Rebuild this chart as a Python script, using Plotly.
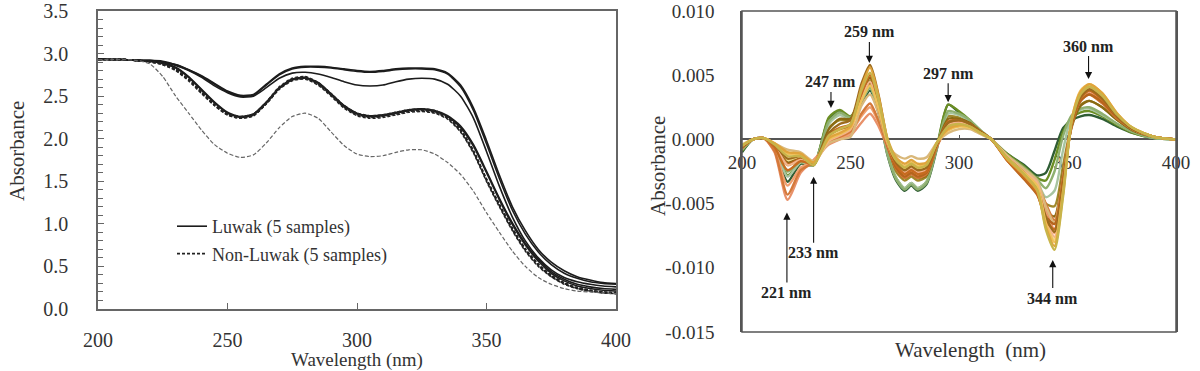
import plotly.graph_objects as go

# ---------------- Left panel: UV absorbance spectra ----------------
wl_left = [200, 205, 210, 215, 220, 225, 230, 235, 240, 245, 250, 255, 260, 265, 270,
           275, 280, 285, 290, 295, 300, 305, 310, 315, 320, 325, 330, 335, 340, 345,
           350, 355, 360, 365, 370, 375, 380, 385, 390, 395, 400]

luwak_1 = [2.94, 2.93, 2.93, 2.92, 2.92, 2.91, 2.87, 2.81, 2.74, 2.65, 2.56, 2.51, 2.52, 2.64, 2.76,
           2.83, 2.85, 2.85, 2.84, 2.82, 2.80, 2.79, 2.80, 2.82, 2.83, 2.83, 2.82, 2.77, 2.63, 2.36,
           1.98, 1.57, 1.20, 0.92, 0.70, 0.55, 0.45, 0.38, 0.34, 0.31, 0.30]
luwak_2 = [2.94, 2.93, 2.93, 2.92, 2.92, 2.90, 2.86, 2.80, 2.72, 2.62, 2.54, 2.49, 2.50, 2.60, 2.71,
           2.77, 2.78, 2.76, 2.72, 2.67, 2.63, 2.62, 2.63, 2.67, 2.70, 2.71, 2.70, 2.64, 2.50, 2.24,
           1.85, 1.44, 1.08, 0.80, 0.60, 0.46, 0.37, 0.32, 0.29, 0.27, 0.26]
luwak_3 = [2.93, 2.93, 2.93, 2.92, 2.91, 2.90, 2.87, 2.81, 2.73, 2.64, 2.55, 2.50, 2.51, 2.63, 2.75,
           2.82, 2.84, 2.84, 2.83, 2.81, 2.79, 2.78, 2.79, 2.81, 2.82, 2.82, 2.81, 2.76, 2.61, 2.33,
           1.94, 1.53, 1.16, 0.88, 0.67, 0.52, 0.42, 0.36, 0.32, 0.30, 0.29]
luwak_4 = [2.93, 2.93, 2.93, 2.92, 2.91, 2.89, 2.84, 2.73, 2.58, 2.43, 2.31, 2.26, 2.29, 2.43, 2.60,
           2.70, 2.72, 2.66, 2.53, 2.39, 2.30, 2.27, 2.28, 2.31, 2.34, 2.35, 2.33, 2.27, 2.15, 1.93,
           1.62, 1.30, 1.01, 0.77, 0.58, 0.44, 0.35, 0.29, 0.26, 0.24, 0.23]
luwak_5 = [2.93, 2.93, 2.93, 2.92, 2.91, 2.88, 2.83, 2.72, 2.57, 2.42, 2.30, 2.25, 2.28, 2.42, 2.59,
           2.69, 2.71, 2.65, 2.52, 2.38, 2.29, 2.26, 2.27, 2.30, 2.33, 2.34, 2.32, 2.26, 2.13, 1.91,
           1.60, 1.28, 0.99, 0.75, 0.56, 0.42, 0.33, 0.27, 0.24, 0.22, 0.21]

nonluwak_1 = [2.93, 2.93, 2.93, 2.92, 2.91, 2.88, 2.82, 2.70, 2.55, 2.40, 2.29, 2.25, 2.28, 2.42, 2.60,
              2.70, 2.72, 2.65, 2.52, 2.38, 2.29, 2.26, 2.27, 2.30, 2.33, 2.34, 2.32, 2.25, 2.10, 1.85,
              1.52, 1.22, 0.94, 0.70, 0.52, 0.39, 0.30, 0.25, 0.22, 0.20, 0.19]
nonluwak_2 = [2.93, 2.93, 2.93, 2.92, 2.91, 2.88, 2.81, 2.69, 2.54, 2.39, 2.28, 2.24, 2.27, 2.41, 2.59,
              2.69, 2.71, 2.64, 2.51, 2.37, 2.28, 2.25, 2.26, 2.29, 2.32, 2.33, 2.31, 2.24, 2.09, 1.84,
              1.51, 1.21, 0.93, 0.69, 0.51, 0.38, 0.30, 0.24, 0.21, 0.19, 0.18]
nonluwak_3 = [2.93, 2.93, 2.93, 2.92, 2.91, 2.87, 2.81, 2.70, 2.56, 2.41, 2.30, 2.26, 2.29, 2.43, 2.61,
              2.71, 2.73, 2.66, 2.53, 2.39, 2.30, 2.27, 2.28, 2.31, 2.34, 2.35, 2.33, 2.26, 2.11, 1.86,
              1.53, 1.23, 0.95, 0.71, 0.53, 0.40, 0.31, 0.25, 0.22, 0.20, 0.19]
nonluwak_4 = [2.93, 2.93, 2.93, 2.92, 2.90, 2.87, 2.80, 2.68, 2.53, 2.39, 2.28, 2.24, 2.27, 2.41, 2.58,
              2.68, 2.70, 2.63, 2.50, 2.36, 2.27, 2.24, 2.25, 2.28, 2.31, 2.32, 2.30, 2.23, 2.08, 1.83,
              1.50, 1.20, 0.92, 0.68, 0.50, 0.38, 0.29, 0.24, 0.21, 0.19, 0.18]
nonluwak_5 = [2.93, 2.93, 2.93, 2.92, 2.88, 2.73, 2.50, 2.30, 2.10, 1.93, 1.83, 1.78, 1.81, 1.95, 2.13,
              2.26, 2.30, 2.24, 2.08, 1.92, 1.82, 1.79, 1.80, 1.84, 1.87, 1.87, 1.82, 1.72, 1.58, 1.38,
              1.13, 0.90, 0.68, 0.50, 0.37, 0.29, 0.24, 0.21, 0.20, 0.19, 0.18]

left_xticks = [200, 250, 300, 350, 400]
left_yticks = [0.0, 0.5, 1.0, 1.5, 2.0, 2.5, 3.0, 3.5]

# ---------------- Right panel: derivative spectra (values in 1e-3 absorbance units) ----------------
wl_right = [200, 205, 210, 215, 221, 227, 233, 240, 245, 250, 255, 259, 263, 267, 271, 275, 278, 281,
            285, 290, 295, 300, 305, 310, 315, 322, 330, 336, 340, 344, 348, 352, 356, 360, 366, 373,
            380, 390, 400]

deriv_series = [
    ("#f3d98a", [-0.5, 0.0, 0.1, -0.4, -1.6, -1.4, -1.9, 0.2, 0.7, 1.1, 3.3, 4.6, 2.6, -0.1, -1.7, -2.3, -2.0, -2.3,
                 -2.1, -0.3, 1.0, 1.2, 1.0, 0.5, 0.0, -1.3, -2.5, -3.5, -6.2, -7.8, -3.9, 1.5, 3.6, 4.1, 3.4, 1.9,
                 0.9, 0.2, 0.0]),
    ("#a0892c", [-0.6, 0.0, 0.1, -0.5, -2.0, -1.6, -2.0, 0.9, 1.5, 1.5, 3.4, 4.6, 2.5, -0.5, -2.5, -3.2, -2.9, -3.2,
                 -2.9, -0.4, 1.8, 1.7, 1.3, 0.6, 0.0, -1.4, -2.7, -3.5, -5.0, -5.2, -2.0, 1.2, 2.7, 3.0, 2.5, 1.5,
                 0.7, 0.2, 0.0]),
    ("#2f5d34", [-1.0, 0.0, 0.1, -0.8, -3.3, -1.9, -2.0, 1.6, 2.2, 1.6, 2.8, 3.8, 2.0, -1.2, -3.2, -4.0, -3.6, -4.0,
                 -3.5, -0.6, 2.7, 2.1, 1.4, 0.6, 0.0, -1.1, -2.0, -2.8, -2.6, -0.9, 0.9, 1.5, 1.8, 1.9, 1.6, 1.0,
                 0.5, 0.1, 0.0]),
    ("#6b8e23", [-0.9, 0.0, 0.1, -0.6, -2.8, -1.8, -2.0, 1.7, 2.3, 1.8, 3.2, 4.3, 2.3, -1.0, -3.0, -3.8, -3.4, -3.8,
                 -3.3, -0.4, 2.7, 2.2, 1.5, 0.6, 0.0, -1.1, -2.1, -3.0, -3.2, -1.6, 0.6, 1.7, 2.1, 2.2, 1.8, 1.1,
                 0.5, 0.1, 0.0]),
    ("#a7c4a0", [-0.8, 0.0, 0.1, -0.7, -2.9, -1.8, -2.0, 1.2, 1.9, 1.6, 3.0, 4.0, 2.2, -1.1, -3.0, -3.8, -3.4, -3.8,
                 -3.3, -0.5, 2.0, 1.9, 1.4, 0.7, 0.0, -1.2, -2.3, -3.3, -4.5, -4.0, -0.8, 1.8, 2.3, 2.4, 1.9, 1.2,
                 0.6, 0.1, 0.0]),
    ("#8fb070", [-0.8, 0.0, 0.1, -0.6, -2.5, -1.7, -1.9, 1.4, 2.1, 1.7, 3.0, 4.0, 2.1, -1.1, -3.1, -3.9, -3.5, -3.9,
                 -3.4, -0.5, 2.2, 2.0, 1.5, 0.7, 0.0, -1.2, -2.2, -3.1, -3.8, -2.5, 0.3, 1.9, 2.4, 2.5, 2.0, 1.2,
                 0.6, 0.1, 0.0]),
    ("#8a6a12", [-0.6, 0.0, 0.1, -0.5, -1.8, -1.5, -2.0, 0.8, 1.6, 1.6, 3.6, 4.8, 2.7, -0.4, -2.3, -3.0, -2.7, -3.0,
                 -2.8, -0.4, 1.6, 1.6, 1.3, 0.6, 0.0, -1.5, -2.9, -3.7, -5.5, -6.0, -2.6, 1.0, 2.6, 3.0, 2.5, 1.5,
                 0.7, 0.2, 0.0]),
    ("#e8916a", [-0.6, 0.0, 0.1, -1.0, -4.7, -2.6, -1.6, -0.4, 0.0, 0.3, 1.3, 2.0, 1.0, -0.6, -2.0, -2.6, -2.3, -2.6,
                 -2.3, -0.4, 0.9, 1.2, 1.1, 0.6, 0.0, -1.4, -2.5, -3.6, -5.5, -7.0, -3.0, 1.2, 3.0, 3.6, 2.9, 1.7,
                 0.8, 0.2, 0.0]),
    ("#f0a070", [-0.6, 0.0, 0.1, -0.8, -3.6, -2.2, -1.7, -0.3, 0.1, 0.5, 1.8, 2.5, 1.3, -0.5, -2.1, -2.8, -2.5, -2.8,
                 -2.5, -0.4, 0.9, 1.2, 1.0, 0.5, 0.0, -1.4, -2.6, -3.7, -5.8, -7.3, -3.4, 1.3, 3.2, 3.8, 3.1, 1.8,
                 0.8, 0.2, 0.0]),
    ("#d4793a", [-0.7, 0.0, 0.1, -0.9, -4.3, -2.4, -1.8, -0.2, 0.2, 0.6, 2.0, 2.8, 1.4, -0.6, -2.3, -3.0, -2.7, -3.0,
                 -2.7, -0.5, 1.0, 1.3, 1.1, 0.6, 0.0, -1.3, -2.4, -3.4, -5.0, -6.3, -2.8, 1.3, 3.0, 3.5, 2.8, 1.6,
                 0.8, 0.2, 0.0]),
    ("#d9b87a", [-0.4, 0.0, 0.1, -0.3, -0.8, -1.0, -1.7, -0.3, 0.0, 0.2, 2.6, 3.5, 2.0, -0.3, -1.2, -1.5, -1.3, -1.5,
                 -1.4, -0.2, 0.5, 0.8, 0.8, 0.4, 0.0, -1.2, -2.3, -3.2, -5.2, -6.5, -3.0, 1.2, 3.1, 3.8, 3.2, 1.8,
                 0.8, 0.2, 0.0]),
    ("#b5651d", [-0.6, 0.0, 0.1, -0.5, -1.9, -1.5, -1.9, 0.3, 0.8, 1.1, 3.2, 4.4, 2.4, -0.4, -2.2, -2.9, -2.6, -2.9,
                 -2.6, -0.3, 1.2, 1.4, 1.2, 0.6, 0.0, -1.6, -3.1, -4.3, -6.0, -6.6, -3.0, 1.1, 3.0, 3.5, 2.9, 1.7,
                 0.8, 0.2, 0.0]),
    ("#f2b48c", [-0.5, 0.0, 0.1, -0.5, -2.0, -1.6, -1.9, -0.1, 0.3, 0.8, 3.2, 4.5, 2.5, -0.3, -1.9, -2.5, -2.2, -2.5,
                 -2.3, -0.3, 1.1, 1.3, 1.1, 0.5, 0.0, -1.3, -2.5, -3.4, -6.0, -7.6, -3.8, 1.4, 3.4, 4.0, 3.3, 1.8,
                 0.8, 0.2, 0.0]),
    ("#c76b1f", [-0.6, 0.0, 0.1, -0.6, -2.4, -1.7, -1.9, 0.4, 0.9, 1.2, 3.5, 5.0, 2.8, -0.2, -2.0, -2.7, -2.4, -2.7,
                 -2.5, -0.3, 1.4, 1.5, 1.2, 0.6, 0.0, -1.6, -3.0, -4.2, -6.3, -7.0, -3.2, 1.2, 3.2, 3.8, 3.1, 1.8,
                 0.8, 0.2, 0.0]),
    ("#9c6b1e", [-0.6, 0.0, 0.1, -0.4, -1.5, -1.3, -1.9, 0.5, 1.2, 1.5, 4.3, 5.8, 3.4, 0.0, -1.8, -2.4, -2.1, -2.4,
                 -2.2, -0.3, 1.3, 1.5, 1.2, 0.6, 0.0, -1.4, -2.6, -3.8, -6.0, -7.2, -3.5, 1.4, 3.3, 3.9, 3.2, 1.8,
                 0.8, 0.2, 0.0]),
    ("#efc15a", [-0.5, 0.0, 0.1, -0.3, -1.1, -1.2, -1.8, 0.0, 0.4, 0.9, 3.0, 4.2, 2.4, -0.2, -1.6, -2.1, -1.8, -2.1,
                 -1.9, -0.2, 0.7, 1.0, 0.9, 0.5, 0.0, -1.4, -2.6, -3.6, -6.5, -8.0, -4.0, 1.6, 3.8, 4.3, 3.6, 2.0,
                 0.9, 0.2, 0.0]),
    ("#e0a43c", [-0.5, 0.0, 0.1, -0.3, -1.0, -1.1, -1.8, 0.1, 0.5, 1.0, 4.0, 5.6, 3.3, 0.1, -1.4, -1.9, -1.6, -1.9,
                 -1.8, -0.2, 0.8, 1.1, 1.0, 0.5, 0.0, -1.5, -2.8, -4.0, -6.8, -8.3, -4.2, 1.6, 3.7, 4.3, 3.6, 2.0,
                 0.9, 0.2, 0.0]),
    ("#c8b44a", [-0.5, 0.0, 0.1, -0.4, -1.3, -1.3, -2.0, 0.3, 0.8, 1.2, 3.8, 5.2, 3.0, 0.0, -1.6, -2.2, -1.9, -2.2,
                 -2.0, -0.2, 1.0, 1.2, 1.0, 0.5, 0.0, -1.4, -2.7, -3.9, -7.0, -8.6, -4.4, 1.5, 3.5, 4.1, 3.4, 1.9,
                 0.9, 0.2, 0.0]),
]

right_yticks = [0.010, 0.005, 0.000, -0.005, -0.010, -0.015]
right_yticktext = ["0.010", "0.005", "0.000", "-0.005", "-0.010", "-0.015"]
right_xticks = [200, 250, 300, 350, 400]

# peak annotations: (label, x, y, arrow offset px)
peak_labels = ["221 nm", "233 nm", "247 nm", "259 nm", "297 nm", "344 nm", "360 nm"]
peak_x = [220.7, 233, 241, 258.7, 295, 343.2, 359.7]
peak_y = [-0.0057, -0.0029, 0.00245, 0.00595, 0.0029, -0.0094, 0.0047]
peak_ay = [80, 76, -26, -31, -29, 38, -33]

FONT = "Liberation Serif, Times New Roman, serif"
TXT = "#333333"

fig = go.Figure()

solid_sets = [luwak_1, luwak_3, luwak_2, luwak_4, luwak_5]
for i, ys in enumerate(solid_sets):
    fig.add_trace(go.Scatter(
        x=wl_left, y=ys, mode="lines", line=dict(color="#1c1c1c", width=1.6, shape="spline", smoothing=0.6),
        name="Luwak (5 samples)", legendgroup="luwak", showlegend=(i == 0), xaxis="x", yaxis="y"))

dashed_sets = [nonluwak_1, nonluwak_2, nonluwak_3, nonluwak_4]
for i, ys in enumerate(dashed_sets):
    fig.add_trace(go.Scatter(
        x=wl_left, y=ys, mode="lines", line=dict(color="#222222", width=1.6, dash="3px,2px", shape="spline", smoothing=0.6),
        name="Non-Luwak (5 samples)", legendgroup="nonluwak", showlegend=(i == 0), xaxis="x", yaxis="y"))
fig.add_trace(go.Scatter(
    x=wl_left, y=nonluwak_5, mode="lines", line=dict(color="#666666", width=1.2, dash="4px,2px", shape="spline", smoothing=0.6),
    name="Non-Luwak (5 samples)", legendgroup="nonluwak", showlegend=False, xaxis="x", yaxis="y"))

for color, vals in deriv_series:
    fig.add_trace(go.Scatter(
        x=wl_right, y=[v / 1000.0 for v in vals], mode="lines",
        line=dict(color=color, width=2.4, shape="spline", smoothing=0.7),
        showlegend=False, xaxis="x2", yaxis="y2", hoverinfo="skip"))

annotations = []
for lab, x, y, ay in zip(peak_labels, peak_x, peak_y, peak_ay):
    annotations.append(dict(
        xref="x2", yref="y2", x=x, y=y, text="<b>" + lab + "</b>", showarrow=True,
        ax=0, ay=ay, arrowhead=2, arrowsize=1.3, arrowwidth=1.1, arrowcolor="#111111",
        font=dict(family=FONT, size=16, color="#222222")))

# axis titles
annotations += [
    dict(xref="paper", yref="paper", x=357 / 1200, y=1 - 360 / 371, text="Wavelength (nm)", showarrow=False,
         font=dict(family=FONT, size=19, color=TXT), xanchor="center", yanchor="middle"),
    dict(xref="paper", yref="paper", x=17 / 1200, y=1 - 151 / 371, text="Absorbance", showarrow=False,
         textangle=-90, font=dict(family=FONT, size=21, color=TXT), xanchor="center", yanchor="middle"),
    dict(xref="paper", yref="paper", x=970 / 1200, y=1 - 350 / 371, text="Wavelength\u00a0 (nm)", showarrow=False,
         font=dict(family=FONT, size=21, color=TXT), xanchor="center", yanchor="middle"),
    dict(xref="paper", yref="paper", x=658 / 1200, y=1 - 166 / 371, text="Absorbance", showarrow=False,
         textangle=-90, font=dict(family=FONT, size=21, color=TXT), xanchor="center", yanchor="middle"),
]

fig.update_layout(
    width=1200, height=371, margin=dict(l=0, r=0, t=0, b=0),
    paper_bgcolor="white", plot_bgcolor="white",
    font=dict(family=FONT, color=TXT),
    showlegend=True,
    legend=dict(x=172 / 1200, y=1 - 240 / 371, xanchor="left", yanchor="middle",
                bgcolor="rgba(0,0,0,0)", font=dict(family=FONT, size=18, color=TXT),
                traceorder="grouped", tracegroupgap=1),
    xaxis=dict(domain=[98 / 1200, 616 / 1200], range=[200, 400], anchor="y",
               tickvals=left_xticks, ticks="inside", ticklen=6, tickcolor="#666",
               showline=True, linecolor="#666", linewidth=1.5, mirror=True,
               showgrid=False, zeroline=False, tickfont=dict(size=20, color=TXT),
               ticklabelstandoff=12, automargin=False),
    yaxis=dict(domain=[1 - 309 / 371, 1 - 11 / 371], range=[0, 3.5], anchor="x",
               tickvals=left_yticks, tickformat=".1f", ticks="inside", ticklen=6, tickcolor="#666",
               minor=dict(dtick=0.1, ticks="inside", ticklen=5, tickcolor="#666"),
               showline=True, linecolor="#666", linewidth=1.5, mirror=True,
               showgrid=False, zeroline=False, tickfont=dict(size=20, color=TXT),
               ticklabelstandoff=24, automargin=False),
    xaxis2=dict(domain=[742 / 1200, 1176 / 1200], range=[200, 400], anchor="free",
                position=1 - 139.4 / 371, tickvals=right_xticks, ticks="inside", ticklen=4, tickcolor="#555",
                showline=True, linecolor="#555", linewidth=1.5, layer="below traces",
                showgrid=False, zeroline=False, tickfont=dict(size=19, color=TXT),
                ticklabelstandoff=6, automargin=False),
    yaxis2=dict(domain=[1 - 332 / 371, 1 - 11 / 371], range=[-0.015, 0.010], anchor="x2",
                tickvals=right_yticks, ticktext=right_yticktext, ticks="",
                showline=True, linecolor="#555", linewidth=1.5, mirror=True,
                showgrid=False, zeroline=False, tickfont=dict(size=19, color=TXT),
                ticklabelstandoff=22, automargin=False),
    shapes=[dict(type="rect", xref="x2 domain", yref="y2 domain", x0=0, x1=1, y0=0, y1=1,
                 line=dict(color="#555", width=1.5), layer="above")],
    annotations=annotations,
)

fig.write_html("out.html")
